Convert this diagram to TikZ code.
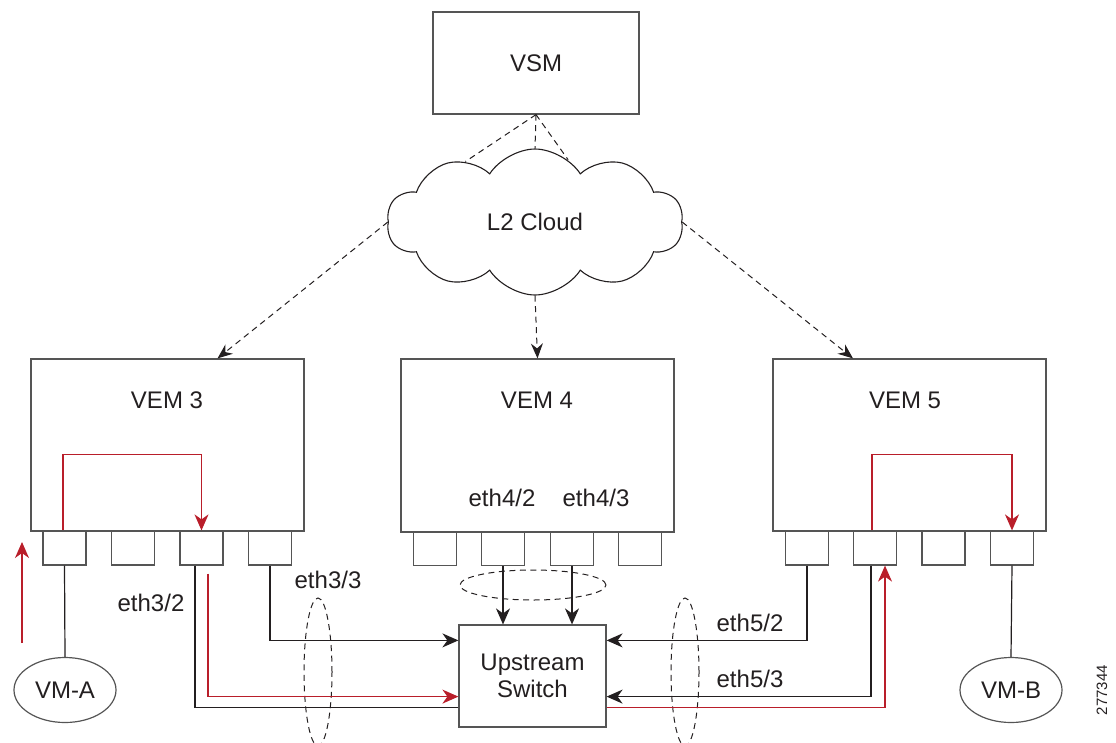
\documentclass[tikz,border=0pt]{standalone}
\usepackage{fontspec}
\setmainfont{Liberation Sans}
\usetikzlibrary{arrows.meta,shapes.symbols,shapes.geometric}
\definecolor{cred}{RGB}{185,30,42}
\definecolor{cline}{RGB}{35,31,32}
\definecolor{cbox}{RGB}{85,85,85}
\begin{document}
\begin{tikzpicture}[x=1pt,y=-1pt,
  every node/.style={font=\fontsize{24}{27}\selectfont, text=cline},
  box/.style={draw=cbox, line width=1.2pt, inner sep=0pt},
  port/.style={box, minimum width=43pt, minimum height=34pt},
  wire/.style={draw=cline, line width=1.2pt},
  redw/.style={draw=cred, line width=1.2pt},
  tip/.style={-{Stealth[length=16pt,width=14pt,inset=5pt]}},
  dtip/.style={-{Stealth[length=15pt,width=12pt,inset=5pt]}},
  dline/.style={draw=cline, line width=1pt, dash pattern=on 6pt off 4.5pt}
]
\useasboundingbox (0,0) rectangle (1116,742);

% main nodes
\node[box, minimum width=206pt, minimum height=102pt] (vsm) at (536,63) {VSM};
\node[cloud, draw=cline, line width=1.1pt, cloud puffs=10, cloud puff arc=115, aspect=2,
      minimum width=296pt, minimum height=146pt] (cloud) at (535,222) {L2 Cloud};

\node[box, minimum width=273pt, minimum height=172pt] (vem3) at (167.5,445) {};
\node[box, minimum width=273pt, minimum height=173pt] (vem4) at (537.5,445.5) {};
\node[box, minimum width=273pt, minimum height=172pt] (vem5) at (909.5,445) {};
\node[anchor=base] (l3) at (167,408) {VEM 3};
\node[anchor=base] (l4) at (537,408) {VEM 4};
\node[anchor=base] (l5) at (905,408) {VEM 5};

% ports
\node[port] (p31) at (64.5,548) {};
\node[port] (p32) at (133,548) {};
\node[port] (p33) at (201.5,548) {};
\node[port] (p34) at (270,548) {};
\node[port] (p41) at (435,548.5) {};
\node[port] (p42) at (503,548.5) {};
\node[port] (p43) at (572,548.5) {};
\node[port] (p44) at (640,548.5) {};
\node[port] (p51) at (807,548) {};
\node[port] (p52) at (875,548) {};
\node[port] (p53) at (943.5,548) {};
\node[port] (p54) at (1012,548) {};

\node[box, ellipse, minimum width=102pt, minimum height=65pt] (vma) at (65,690) {VM-A};
\node[box, ellipse, minimum width=102pt, minimum height=65pt] (vmb) at (1011,690) {VM-B};
\node[box, minimum width=147pt, minimum height=102pt, align=center] (sw) at (532.5,676) {Upstream\\Switch};

% port-channel ellipses
\node[ellipse, dline, minimum width=28pt, minimum height=148pt] (lag3) at (318,672) {};
\node[ellipse, dline, minimum width=28pt, minimum height=148pt] (lag5) at (685,672) {};
\node[ellipse, dline, minimum width=146pt, minimum height=30pt] (lag4) at (533,585) {};

% labels
\node[anchor=base] (e32) at (151,611) {eth3/2};
\node[anchor=base] (e33) at (328,588) {eth3/3};
\node[anchor=base] (e42) at (502,506) {eth4/2};
\node[anchor=base] (e43) at (596,506) {eth4/3};
\node[anchor=base] (e52) at (750,631) {eth5/2};
\node[anchor=base] (e53) at (750,687) {eth5/3};
\node[rotate=90, font=\fontsize{15}{15}\selectfont] (fig) at (1102,690) {277344};

% control connections
\draw[dline] (vsm.south) -- (cloud.139);
\draw[dline] (vsm.south) -- (cloud.north);
\draw[dline] (vsm.south) -- (cloud.62);
\draw[dline, dtip] (cloud.west) -- ([xshift=50pt]vem3.north);
\draw[dline, dtip] (cloud.south) -- (vem4.north);
\draw[dline, dtip] (cloud.east) -- ([xshift=-56.5pt]vem5.north);

% data wires
\draw[wire] (p31.south) -- (vma.north);
\draw[wire] (p54.south) -- (vmb.north);
\draw[wire] ([xshift=-6.5pt]p33.south) |- ([yshift=20pt]sw.south west);
\draw[wire, tip] (p34.south) |- ([yshift=-16pt]sw.north west);
\draw[wire, tip] (p42.south) -- (p42.south |- sw.north);
\draw[wire, tip] (p43.south) -- (p43.south |- sw.north);
\draw[wire, tip] (p51.south) |- ([yshift=-16pt]sw.north east);
\draw[wire, tip] ([xshift=-4pt]p52.south) |- ([yshift=31pt]sw.south east);

% red traffic path
\coordinate (ra1) at (22,643);
\coordinate (ra2) at (22,542);
\draw[redw, tip] (ra1) -- (ra2);
\draw[redw, tip] ([xshift=-1.5pt]p31.north) -- ++(0,-76) -| (p33.north);
\draw[redw, tip] ([xshift=6.5pt,yshift=-8pt]p33.south) |- ([yshift=31pt]sw.south west);
\draw[redw, tip] ([yshift=20pt]sw.south east) -| ([xshift=10pt]p52.south);
\draw[redw, tip] ([xshift=-3pt]p52.north) -- ++(0,-76) -| (p54.north);
\end{tikzpicture}
\end{document}
